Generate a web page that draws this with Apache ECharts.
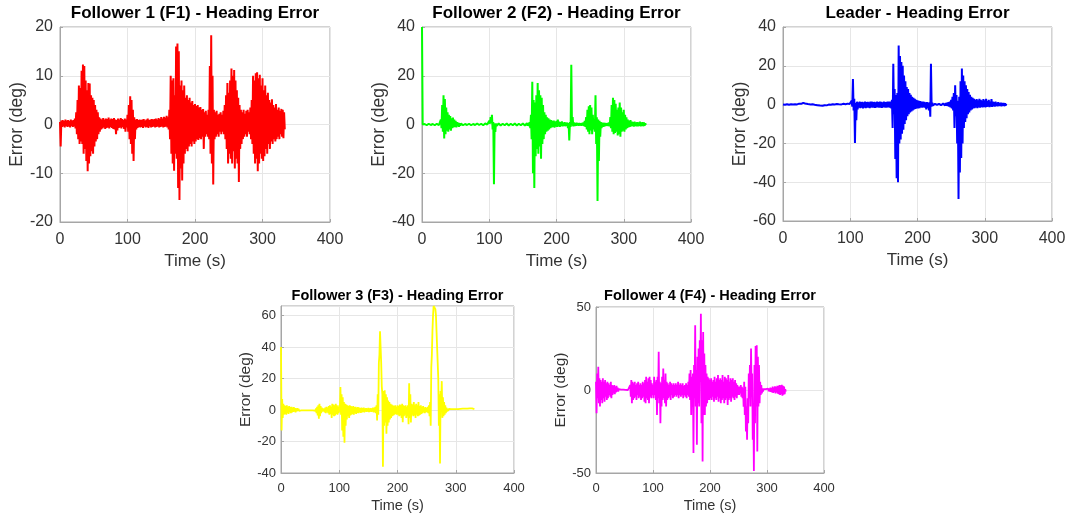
<!DOCTYPE html>
<html>
<head>
<meta charset="utf-8">
<script src="https://cdn.jsdelivr.net/npm/echarts@6/dist/echarts.min.js"></script>
<style>
html,body{margin:0;padding:0;background:#fff;}
#chart{width:1069px;height:519px;}
</style>
</head>
<body>
<div id="chart"></div>
<script>
// Sampling: one upper and one lower reading per 2 s window (t = 0..332 s)
const DT = 2;
const xTicks = [0, 100, 200, 300, 400];

const titles = ['Follower 1 (F1) - Heading Error', 'Follower 2 (F2) - Heading Error', 'Leader - Heading Error',
                'Follower 3 (F3) - Heading Error', 'Follower 4 (F4) - Heading Error'];

// Follower 1 (deg)
const f1Hi = [0.5,0.8,0.9,0.7,1.0,0.8,0.9,0.7,1.0,0.8,
  0.9,1.2,2.5,5.0,8.0,7.5,11.0,12.3,12.0,9.0,
  7.0,8.5,8.4,6.0,5.5,5.0,4.0,3.0,2.5,1.5,
  1.2,1.0,1.3,1.0,1.2,1.1,1.4,1.0,1.2,1.1,
  1.3,1.0,0.9,1.2,1.0,1.3,1.1,0.9,1.2,1.0,
  2.0,4.0,5.8,5.0,3.0,1.5,1.0,1.1,0.9,1.0,
  0.9,1.0,1.1,0.8,1.0,1.2,0.9,1.0,1.1,1.0,
  1.1,1.2,1.0,1.3,1.1,1.5,1.2,1.6,1.4,1.8,
  1.5,3.0,10.0,9.0,9.5,6.0,16.0,16.6,15.0,8.0,
  9.0,7.0,8.0,5.5,6.0,5.0,5.5,4.5,4.8,4.0,
  4.2,3.8,4.0,3.5,3.6,3.0,3.2,2.5,2.8,2.0,
  3.0,12.0,18.3,10.0,3.0,2.5,2.8,2.0,2.2,2.5,
  2.0,2.8,4.0,6.0,8.5,6.5,9.0,11.5,10.0,11.2,
  9.0,7.0,5.5,4.0,3.0,2.5,3.0,2.2,2.8,3.0,
  2.5,3.5,5.0,10.0,9.0,10.5,10.7,9.5,10.2,8.0,
  9.5,7.0,8.0,6.0,6.5,5.0,4.5,5.2,4.0,3.5,
  4.2,3.0,3.5,2.8,3.2,3.0,2.5];
const f1Lo = [-4.5,-0.5,-0.4,-0.6,-0.3,-0.5,-0.4,-0.6,-0.3,-0.5,
  -0.4,-0.8,-2.0,-3.0,-4.0,-3.5,-4.0,-6.0,-5.0,-7.5,
  -9.6,-8.0,-6.5,-5.5,-6.0,-4.5,-3.5,-3.0,-2.0,-1.5,
  -1.0,-0.8,-0.6,-0.9,-0.7,-0.6,-0.8,-0.5,-0.7,-0.9,
  -1.0,-2.0,-1.2,-0.7,-0.6,-0.8,-0.5,-0.9,-1.5,-0.6,
  -1.5,-3.0,-4.0,-6.0,-7.5,-3.0,-1.0,-0.7,-0.5,-0.6,
  -0.5,-0.7,-0.4,-0.6,-0.5,-0.7,-0.4,-0.6,-0.5,-0.4,
  -0.6,-0.5,-0.4,-0.6,-0.5,-0.4,-0.6,-0.5,-0.4,-0.6,
  -1.0,-3.0,-6.0,-8.0,-9.5,-6.0,-7.0,-13.0,-15.5,-9.0,
  -11.5,-8.0,-6.0,-5.0,-5.5,-4.5,-4.0,-4.5,-3.5,-4.0,
  -3.5,-3.0,-3.2,-2.8,-3.0,-2.5,-5.0,-2.5,-2.0,-2.5,
  -3.0,-6.0,-8.0,-12.3,-3.0,-2.5,-2.0,-2.5,-1.5,-2.0,
  -1.5,-2.0,-3.0,-5.0,-8.0,-6.0,-7.0,-8.0,-5.5,-9.0,
  -7.0,-8.0,-11.8,-5.0,-4.0,-3.0,-2.5,-2.0,-2.5,-1.5,
  -2.0,-3.0,-4.0,-6.0,-8.0,-7.0,-9.6,-8.0,-6.0,-7.0,
  -7.5,-6.5,-5.0,-6.0,-4.0,-5.0,-3.5,-4.0,-3.0,-3.5,
  -3.0,-2.5,-3.0,-2.0,-2.5,-2.8,-1.0];

// Follower 2 (deg)
const f2Hi = [40,0.3,0.2,0.3,0.2,0.3,0.2,0.3,0.2,0.3,
  0.2,0.3,0.3,0.5,2.0,8.0,12.0,10.5,7.0,5.0,
  4.0,3.5,2.5,2.8,2.0,1.5,1.0,0.8,0.5,0.4,
  0.2,0.3,0.2,0.3,0.2,0.3,0.2,0.3,0.2,0.3,
  0.3,0.4,0.3,0.4,0.3,0.4,0.5,0.4,0.6,0.8,
  1.5,3.0,4.0,1.0,0.5,0.4,0.3,0.4,0.3,0.4,
  0.3,0.4,0.3,0.4,0.3,0.4,0.3,0.4,0.3,0.4,
  0.3,0.4,0.3,0.4,0.3,0.4,0.3,0.4,0.5,0.6,
  1.0,4.0,17.5,10.0,9.0,12.0,17.0,14.0,12.0,11.0,
  8.0,5.0,4.0,3.0,2.5,2.0,1.8,1.5,1.6,1.2,
  1.5,2.0,1.2,1.0,1.3,0.8,1.0,0.7,0.8,0.6,
  1.0,24.5,3.0,0.8,0.6,0.7,0.5,0.6,0.5,0.6,
  0.8,1.5,3.0,6.0,7.5,8.0,7.0,4.0,2.0,12.0,
  3.0,2.0,1.5,1.0,0.8,0.7,0.6,0.5,0.6,0.8,
  3.0,8.0,11.0,10.0,8.5,6.0,7.0,9.0,7.0,5.0,
  6.0,4.0,3.0,2.0,1.5,1.8,1.2,1.0,1.2,0.9,
  1.0,0.8,1.2,0.9,1.0,0.8,0.5];
const f2Lo = [0,-0.3,-0.2,-0.3,-0.2,-0.3,-0.2,-0.3,-0.2,-0.3,
  -0.2,-0.3,-0.3,-0.5,-1.5,-3.0,-5.7,-4.0,-2.5,-3.0,
  -2.0,-2.5,-1.5,-1.2,-1.0,-1.2,-0.8,-1.0,-0.5,-0.4,
  -0.3,-0.2,-0.3,-0.2,-0.3,-0.2,-0.3,-0.2,-0.3,-0.2,
  -0.2,-0.3,-0.2,-0.3,-0.2,-0.3,-0.2,-0.1,0.0,0.1,
  0.3,0.5,-2.0,-24.5,-3.0,-0.5,-0.4,-0.3,-0.4,-0.3,
  -0.4,-0.3,-0.4,-0.3,-0.4,-0.3,-0.4,-0.3,-0.4,-0.3,
  -0.4,-0.3,-0.4,-0.3,-0.4,-0.3,-0.4,-0.3,-0.5,-0.6,
  -1.5,-6.0,-20.0,-26.0,-13.0,-10.0,-12.0,-9.0,-14.0,-8.0,
  -6.0,-4.0,-3.0,-2.5,-2.0,-1.5,-1.2,-1.0,-1.3,-0.9,
  -1.0,-0.8,-1.0,-0.7,-0.8,-0.6,-0.7,-0.5,-1.5,-6.5,
  -1.0,-0.5,-0.8,-0.6,-0.5,-0.4,-0.5,-0.4,-0.5,-0.4,
  -0.6,-1.0,-2.0,-3.0,-4.0,-2.5,-4.0,-2.0,-3.0,-8.0,
  -31.4,-15.0,-5.0,-1.5,-1.0,-0.8,-0.6,-0.5,-0.6,-0.8,
  -1.5,-3.0,-4.0,-3.5,-3.0,-4.5,-4.0,-5.0,-3.0,-2.5,
  -3.0,-2.0,-1.5,-1.2,-1.0,-0.8,-0.7,-0.9,-0.6,-0.8,
  -0.7,-0.5,-0.8,-0.6,-0.7,-0.5,-0.2];

// Leader (deg)
const ldHi = [0.1,0.1,0.2,0.2,0.1,0.1,0.2,0.2,0.1,0.2,
  0.3,0.4,0.5,0.6,0.8,0.9,0.8,0.6,0.5,0.4,
  0.3,0.2,0.2,0.1,0.0,-0.1,-0.2,-0.3,-0.3,-0.4,
  -0.4,-0.3,-0.2,-0.1,0.0,0.1,0.2,0.2,0.3,0.3,
  0.3,0.4,0.4,0.3,0.3,0.4,0.4,0.5,0.5,0.6,
  0.8,2.0,13.2,3.0,1.0,1.5,1.2,1.5,1.3,1.4,
  1.2,1.5,1.3,1.4,1.2,1.5,1.6,1.3,1.4,1.2,
  1.5,1.3,1.6,1.4,1.2,1.5,1.3,1.4,1.6,1.5,
  1.5,2.5,21.0,8.0,5.0,6.0,30.5,25.0,22.0,20.0,
  15.0,12.0,9.0,8.0,6.0,5.0,4.0,3.5,3.0,2.5,
  2.2,2.0,1.8,1.5,1.6,1.4,1.2,1.3,1.0,1.2,
  21.0,1.0,0.5,0.4,0.3,0.3,0.4,0.5,0.6,0.5,
  0.6,0.8,1.0,1.2,1.5,2.5,4.0,6.0,10.0,5.0,
  2.0,4.0,12.0,18.6,15.0,12.0,10.0,8.0,6.5,5.0,
  4.0,3.5,3.0,2.5,2.8,2.2,3.0,2.5,2.0,2.8,
  2.2,3.0,1.8,2.5,1.5,2.8,1.5,1.2,1.5,1.0,
  1.2,0.9,1.0,0.8,0.9,0.7,0.5];
const ldLo = [-0.1,-0.1,0.0,0.0,-0.1,-0.1,0.0,0.0,-0.1,0.0,
  0.1,0.2,0.3,0.4,0.6,0.7,0.6,0.4,0.3,0.2,
  0.1,0.0,0.0,-0.1,-0.2,-0.3,-0.4,-0.5,-0.5,-0.6,
  -0.6,-0.5,-0.4,-0.3,-0.2,-0.1,0.0,0.0,0.1,0.1,
  0.1,0.2,0.2,0.1,0.1,0.2,0.2,0.3,0.3,0.3,
  0.0,-1.0,-3.0,-19.8,-8.0,-2.5,-1.5,-1.8,-1.6,-2.0,
  -1.5,-1.8,-1.6,-1.5,-1.8,-1.4,-1.6,-1.5,-1.7,-1.5,
  -1.4,-1.6,-1.5,-1.7,-1.4,-1.5,-1.6,-1.5,-1.4,-1.6,
  -2.0,-12.0,-5.0,-28.0,-38.0,-40.0,-20.0,-18.0,-15.0,-13.0,
  -10.0,-8.0,-6.0,-5.0,-4.0,-3.5,-3.0,-2.5,-2.2,-2.0,
  -2.0,-1.8,-1.5,-1.6,-1.4,-1.5,-2.5,-1.8,-3.0,-6.3,
  -1.0,-0.5,-0.3,-0.2,-0.2,-0.3,-0.2,-0.3,-0.4,-0.3,
  -0.4,-0.6,-0.8,-1.0,-1.5,-2.0,-3.0,-12.0,-6.0,-20.0,
  -48.6,-35.0,-27.5,-20.0,-12.0,-9.0,-7.0,-5.0,-4.0,-3.0,
  -2.5,-2.0,-1.8,-1.5,-1.8,-1.4,-1.6,-1.3,-1.5,-1.2,
  -1.4,-1.2,-1.0,-1.3,-1.0,-1.2,-0.9,-1.0,-0.8,-0.9,
  -0.8,-0.7,-0.9,-0.6,-0.8,-0.5,-0.2];

// Follower 3 (deg)
const f3Hi = [40.0,7.0,4.0,3.0,2.5,3.0,2.0,2.5,1.8,2.0,
  1.5,1.8,1.2,1.0,1.2,0.8,0.6,0.5,0.4,0.3,
  0.3,0.2,0.3,0.2,0.2,0.3,0.2,0.2,0.3,0.3,
  1.0,2.0,3.0,4.0,2.5,1.5,1.0,0.8,1.5,2.0,
  1.5,2.5,3.0,2.0,4.0,3.5,3.0,4.0,3.0,2.0,
  3.0,14.6,10.0,8.0,5.0,4.0,3.5,3.0,2.5,3.0,
  2.5,2.0,2.5,1.8,2.0,1.5,1.8,1.5,1.2,1.5,
  1.2,1.5,1.0,1.2,1.0,1.3,1.0,1.2,1.0,1.5,
  1.5,2.0,3.0,10.0,30.0,50.0,30.0,10.0,12.0,12.5,
  10.0,8.0,6.0,5.0,4.0,3.5,3.0,2.5,3.0,2.0,
  3.0,2.5,3.5,3.0,4.0,3.0,2.5,3.0,2.0,3.0,
  16.9,10.0,4.0,3.5,5.0,3.0,4.0,3.0,5.0,2.5,
  3.0,2.0,2.5,1.5,1.8,1.2,2.0,3.0,5.0,27.0,
  50.0,66.0,66.0,60.0,40.0,20.0,10.0,12.0,18.3,8.0,
  5.0,3.0,1.5,0.8,0.7,0.6,0.5,0.6,0.5,0.6,
  0.5,0.6,0.5,0.6,0.7,0.6,0.8,0.7,0.8,0.9,
  0.8,0.9,1.0,0.9,1.0,0.8,0.5];
const f3Lo = [-13.0,-5.0,-3.0,-2.5,-3.0,-2.0,-2.5,-1.5,-2.0,-1.5,
  -1.2,-1.0,-1.5,-0.8,-0.6,-0.5,-0.4,-0.3,-0.2,-0.3,
  -0.2,-0.3,-0.2,-0.3,-0.2,-0.2,-0.3,-0.2,-0.3,-0.5,
  -2.0,-3.5,-5.6,-4.0,-2.0,-1.0,-0.8,-1.5,-2.0,-1.0,
  -2.0,-3.0,-2.5,-5.0,-3.0,-4.0,-3.5,-2.5,-3.0,-2.0,
  -1.0,-3.0,-13.0,-17.0,-20.8,-10.0,-6.0,-4.0,-5.0,-3.5,
  -3.0,-2.5,-3.0,-2.0,-2.5,-1.8,-2.0,-1.5,-1.8,-1.5,
  -1.2,-1.5,-1.0,-1.2,-1.0,-1.3,-1.0,-1.2,-1.0,-1.5,
  -1.5,-2.0,-6.7,-3.0,35.0,40.0,15.0,-36.0,-10.0,-8.0,
  -15.0,-10.0,-8.0,-6.0,-5.0,-4.0,-3.5,-3.0,-2.5,-3.0,
  -3.0,-4.0,-3.5,-5.0,-7.7,-4.0,-3.0,-5.0,-4.0,-9.0,
  -5.0,-8.0,-3.0,-4.0,-3.5,-5.0,-3.0,-4.0,-3.5,-3.0,
  -2.5,-2.0,-1.5,-2.0,-1.2,-1.5,-2.0,-4.0,-10.0,35.0,
  60.0,66.0,64.0,50.0,30.0,-10.0,-34.0,5.0,-5.0,-4.0,
  -3.0,-2.0,-1.0,-0.6,-0.5,-0.4,-0.3,-0.4,-0.3,-0.2,
  -0.3,-0.2,-0.3,-0.2,-0.1,-0.2,0.0,-0.1,0.0,0.1,
  0.0,0.1,0.2,0.1,0.2,0.0,0.3];

// Follower 4 (deg)
const f4Hi = [5.0,10.0,14.0,7.0,6.0,5.0,7.0,5.0,6.0,4.0,
  5.0,4.0,3.0,5.0,3.0,2.5,3.0,2.0,2.5,1.5,
  0.5,0.3,0.2,0.0,0.2,0.0,0.1,-0.1,0.0,0.2,
  3.0,6.0,5.0,4.0,5.0,3.0,4.0,5.0,3.0,4.0,
  3.0,5.0,4.0,6.0,8.0,5.0,7.0,8.0,6.0,4.0,
  3.0,8.0,5.0,6.0,8.0,23.0,5.0,4.0,8.0,13.0,
  6.0,10.0,5.0,4.0,3.0,5.0,4.0,3.0,4.0,3.0,
  4.0,3.0,5.0,3.0,4.0,3.0,4.0,2.5,3.0,4.0,
  3.0,5.0,10.0,12.0,8.0,10.0,15.0,39.0,12.0,20.0,
  25.0,30.0,46.0,30.0,35.0,22.0,15.0,10.0,8.0,7.0,
  6.0,7.0,5.0,6.0,8.0,5.0,7.0,9.0,6.0,7.0,
  6.0,9.0,5.0,8.0,7.0,6.0,9.0,5.0,7.0,6.0,
  7.0,5.0,6.0,4.0,3.0,2.0,2.0,3.0,2.0,1.0,
  5.0,2.0,-10.0,-5.0,10.0,15.0,25.0,10.0,-10.0,15.0,
  26.5,27.0,20.0,15.0,5.0,3.0,1.0,0.5,0.3,0.5,
  0.5,0.8,1.0,1.5,1.2,2.0,1.5,2.2,1.8,2.5,
  2.5,3.0,2.8,3.2,2.5,2.0,0.5];
const f4Lo = [-14.0,-5.0,-8.0,-10.0,-6.0,-8.0,-5.0,-7.0,-4.0,-6.0,
  -5.0,-3.0,-4.0,-5.0,-3.0,-2.0,-2.5,-1.5,-1.0,-1.0,
  -0.5,-0.5,-0.6,-0.8,-0.6,-0.8,-0.7,-0.9,-0.8,-0.5,
  -4.0,-8.0,-6.0,-5.0,-4.0,-6.0,-3.0,-5.0,-4.0,-6.0,
  -5.0,-4.0,-7.0,-8.0,-5.0,-6.0,-8.0,-4.0,-5.0,-3.0,
  -5.0,-3.0,-6.0,-15.0,-5.0,-8.0,-20.0,-10.0,-6.0,-5.0,
  -8.0,-10.0,-6.0,-5.0,-4.0,-6.0,-3.0,-5.0,-4.0,-3.0,
  -4.0,-3.0,-5.0,-3.0,-4.0,-3.0,-5.0,-3.0,-4.0,-5.0,
  -3.0,-4.0,-6.0,-15.0,-10.0,-38.0,-5.0,-10.0,-33.0,-8.0,
  -10.0,5.0,-20.0,-43.0,-15.0,-15.0,-10.0,-8.0,-6.0,-6.0,
  -5.0,-6.0,-4.0,-7.0,-5.0,-6.0,-4.0,-7.0,-5.0,-8.0,
  -6.0,-5.0,-8.0,-6.0,-5.0,-9.0,-6.0,-5.0,-7.0,-4.0,
  -5.0,-6.0,-4.0,-5.0,-3.0,-3.0,-2.0,-4.0,-5.0,-10.0,
  -15.0,-25.0,-30.0,-20.0,-5.0,-10.0,0.0,-30.0,-48.8,-20.0,
  -10.0,-37.0,-10.0,-8.0,-3.0,-2.0,-1.0,-0.5,-0.5,-0.3,
  -0.5,-0.8,-1.0,-1.2,-1.5,-1.8,-1.2,-2.0,-1.5,-2.2,
  -2.5,-3.0,-2.5,-3.5,-2.8,-2.5,-1.0];

const yMin = [-20, -40, -60, -40, -50];
const yMax = [20, 40, 40, 66, 50];
const yStep = [10, 20, 20, 20, 50];
const colors = ['#ff0000', '#00ff00', '#0000ff', '#ffff00', '#ff00ff'];
const his = [f1Hi, f2Hi, ldHi, f3Hi, f4Hi];
const los = [f1Lo, f2Lo, ldLo, f3Lo, f4Lo];

// layout (pixels)
const grids = [
  {left: 60, top: 27, width: 270, height: 195},
  {left: 422, top: 27, width: 269, height: 195},
  {left: 783, top: 27, width: 269, height: 194},
  {left: 281, top: 306, width: 233, height: 167},
  {left: 596, top: 307, width: 228, height: 166}
];
const big = [true, true, true, false, false];
const FONT = 'Liberation Sans, Arial, Helvetica, sans-serif';

function buildSeries(hi, lo) {
  const pts = [];
  for (let i = 0; i < hi.length; i++) {
    pts.push([i * DT, hi[i]]);
    pts.push([i * DT + DT / 2, lo[i]]);
  }
  return pts;
}

const option = {
  backgroundColor: '#ffffff',
  animation: false,
  title: grids.map((g, i) => ({
    text: titles[i],
    left: g.left + g.width / 2,
    top: big[i] ? 5 : 288,
    padding: 0,
    textAlign: 'center',
    textStyle: {fontFamily: FONT, fontWeight: 'bold', fontSize: big[i] ? 17 : 14.5, color: '#000'}
  })),
  grid: grids.map(g => Object.assign({show: true, borderColor: '#a6a6a6', borderWidth: 1, containLabel: false}, g)),
  xAxis: grids.map((g, i) => ({
    type: 'value', gridIndex: i, min: xTicks[0], max: xTicks[xTicks.length - 1], interval: 100,
    name: 'Time (s)', nameLocation: 'middle', nameGap: big[i] ? 31 : 25,
    nameTextStyle: {fontFamily: FONT, fontSize: big[i] ? 17 : 14.5, color: '#333333'},
    axisLine: {show: true, onZero: false, lineStyle: {color: '#a6a6a6'}},
    axisTick: {show: true, inside: true, length: 3, lineStyle: {color: '#a6a6a6'}},
    axisLabel: {fontFamily: FONT, fontSize: big[i] ? 16 : 13, color: '#333333', margin: big[i] ? 10 : 9},
    splitLine: {show: true, lineStyle: {color: '#e6e6e6', width: 1}}
  })),
  yAxis: grids.map((g, i) => ({
    type: 'value', gridIndex: i, min: yMin[i], max: yMax[i], interval: yStep[i],
    name: 'Error (deg)', nameLocation: 'middle', nameGap: big[i] ? 33 : 27,
    nameTextStyle: {fontFamily: FONT, fontSize: big[i] ? 17.5 : 15.5, color: '#333333'},
    axisLine: {show: true, onZero: false, lineStyle: {color: '#a6a6a6'}},
    axisTick: {show: true, inside: true, length: 3, lineStyle: {color: '#a6a6a6'}},
    axisLabel: {fontFamily: FONT, fontSize: big[i] ? 16 : 13, color: '#333333', margin: big[i] ? 7 : 5,
                showMaxLabel: yMax[i] % yStep[i] === 0},
    splitLine: {show: true, lineStyle: {color: '#e6e6e6', width: 1}}
  })),
  series: grids.map((g, i) => ({
    type: 'line', xAxisIndex: i, yAxisIndex: i,
    data: buildSeries(his[i], los[i]),
    showSymbol: false, symbol: 'none', clip: true,
    lineStyle: {color: colors[i], width: big[i] ? 2 : 1.8},
    itemStyle: {color: colors[i]}
  }))
};

const chart = echarts.init(document.getElementById('chart'), null, {renderer: 'canvas'});
chart.setOption(option);
</script>
</body>
</html>
